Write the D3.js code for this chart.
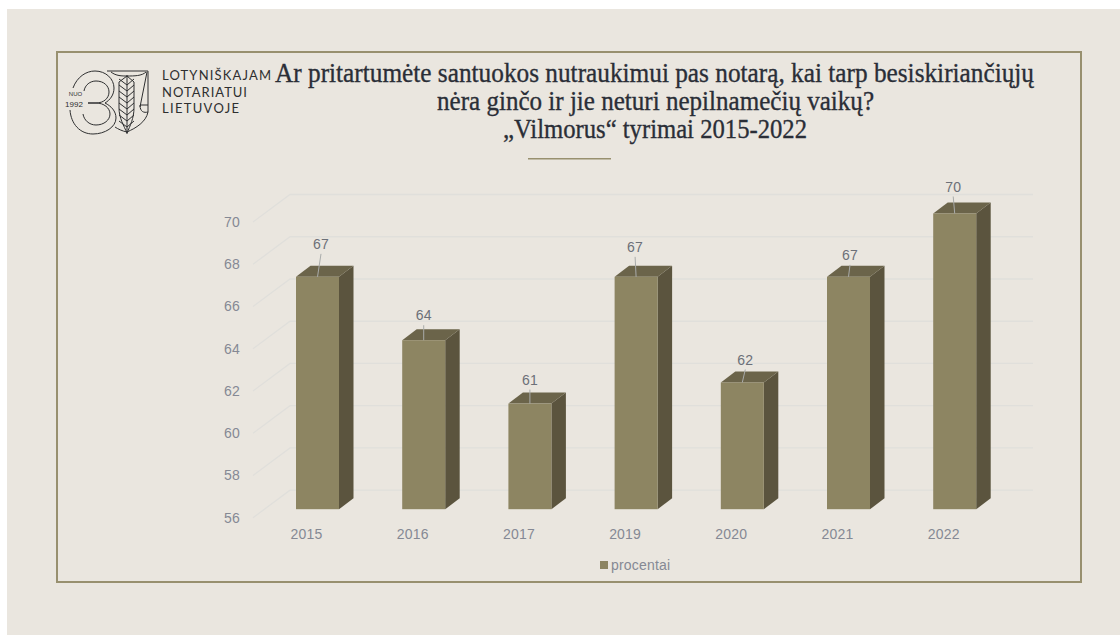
<!DOCTYPE html>
<html><head><meta charset="utf-8">
<style>html,body{margin:0;padding:0;background:#fff;overflow:hidden}svg{display:block}</style>
<script src="https://cdn.jsdelivr.net/npm/d3@7"></script></head>
<body><svg id="c" width="1120" height="635"></svg>
<script>
const categories = ["2015","2016","2017","2019","2020","2021","2022"];
const seriesName = "procentai";
const values = [67,64,61,67,62,67,70];
const yTicks = [56,58,60,62,64,66,68,70];
const titleLines = ["Ar pritartumėte santuokos nutraukimui pas notarą, kai tarp besiskiriančiųjų","nėra ginčo ir jie neturi nepilnamečių vaikų?","„Vilmorus“ tyrimai 2015-2022"];
const logoLines = ["LOTYNIŠKAJAM","NOTARIATUI","LIETUVOJE"];

const svg = d3.select("#c");
const BG="#eae6df", FRAME="#98906f", FRONT="#8d8562", SIDE="#5b543e", TOP="#6b644a", GRID="#e0dfdb", AXIS="#858994", LABEL="#6c7078", INK="#2a2e37", LOGO="#2e2f30";

svg.append("rect").attr("x",7).attr("y",9).attr("width",1113).attr("height",626).attr("fill",BG);
svg.append("rect").attr("x",57).attr("y",52).attr("width",1024).attr("height",530).attr("fill","none").attr("stroke",FRAME).attr("stroke-width",2);

// title
const titleLayout=[{x:275,w:759,y:81.5},{x:437,w:437,y:110},{x:503,w:304,y:138}];
svg.append("g").selectAll("text").data(titleLines).join("text")
  .attr("x",(d,i)=>titleLayout[i].x).attr("y",(d,i)=>titleLayout[i].y)
  .attr("textLength",(d,i)=>titleLayout[i].w).attr("lengthAdjust","spacingAndGlyphs")
  .attr("font-family","'Liberation Serif',serif").attr("font-size",28)
  .attr("fill",INK).attr("stroke",INK).attr("stroke-width",.35).text(d=>d);
svg.append("line").attr("x1",528).attr("x2",611).attr("y1",158.7).attr("y2",158.7).attr("stroke",FRAME).attr("stroke-width",1.6);

// logo
const logo=svg.append("g").attr("fill","none").attr("stroke",LOGO).attr("stroke-width",1);
logo.append("path").attr("d","M73 88C77 77 86 71 95 71C106 71 114 79 114 88C114 95 110 100 105 103C111 106 116 111 116 118C116 127 105 134 93 134C80 134 71 124 70 110");
logo.append("path").attr("d","M84 91C85 85 90 81 96 81C104 81 109 86 109 92C109 98 104 103 96 103H88H96C104 103 110 108 110 114C110 120 104 125 96 125C89 125 84 120 83 114");
logo.append("path").attr("d","M107 71H148V112C146 122 136 128 127 132C122 131 118 129 115 127");
logo.append("path").attr("d","M111 72C116 76 122 76 127 76C134 76 142 76 146 72M127 75V134M140 107L147 72M140 105H148M140 105C140 112 144 113 148 112");
logo.append("path").attr("d","M119 82L127 76L134 82V108C134 118 130 126 127 133C124 126 119 118 119 108Z");
logo.selectAll("path.ch").data(d3.range(8)).join("path").attr("class","ch")
  .attr("d",i=>{const y=82+i*6;return `M119 ${y-3}L127 ${y+3}L134 ${y-3}`;});
svg.append("text").attr("x",75.5).attr("y",96).attr("text-anchor","middle").attr("font-family","'Liberation Sans',sans-serif").attr("font-size",6).attr("fill",LOGO).text("NUO");
svg.append("text").attr("x",74).attr("y",106.5).attr("text-anchor","middle").attr("font-family","'Liberation Sans',sans-serif").attr("font-size",8).attr("fill",LOGO).text("1992");
const logoLayout=[{w:109,y:80},{w:85,y:96.5},{w:77,y:113}];
svg.append("g").selectAll("text").data(logoLines).join("text")
  .attr("x",162).attr("y",(d,i)=>logoLayout[i].y).attr("textLength",(d,i)=>logoLayout[i].w).attr("lengthAdjust","spacing")
  .attr("font-family","Lato,sans-serif").attr("font-size",13).attr("fill",LOGO).text(d=>d);

// scales
const step=106.2, x0=296-step*0.2975;
const x=d3.scaleBand().domain(categories).range([x0,x0+step*categories.length]).paddingInner(1-43/step).paddingOuter((1-43/step)/2);
const y=d3.scaleLinear().domain([56,70]).range([517.7,222]);
const wallDx=37, wallDy=-27.5, barLift=-8.5, depthX=14.5, depthY=-11;
const floorX=253, wallEnd=1033;

// grid
const grid=svg.append("g").attr("fill","none").attr("stroke",GRID).attr("stroke-width",1.3);
grid.selectAll("path").data(yTicks).join("path")
  .attr("d",v=>`M${floorX} ${y(v)}L${floorX+wallDx} ${y(v)+wallDy}H${wallEnd}`);

// axes
const tickFont=g=>{g.select(".domain").remove();g.selectAll(".tick line").remove();
  g.selectAll("text").attr("fill",AXIS).attr("font-family","'Liberation Sans',sans-serif").attr("font-size",14).attr("letter-spacing",.2);};
svg.append("g").attr("transform","translate(240,0)")
  .call(d3.axisLeft(y).tickValues(yTicks).tickSize(0).tickPadding(0)).call(tickFont);
svg.append("g").attr("transform","translate(-11,526)")
  .call(d3.axisBottom(x).tickSize(0).tickPadding(3)).call(tickFont);

// bars
const barBase=y(56)+barLift, bw=x.bandwidth();
const bars=svg.append("g").selectAll("g").data(values).join("g");
const bx=(d,i)=>x(categories[i]), by=d=>y(d)+barLift;
bars.append("path").attr("fill",SIDE)
  .attr("d",(d,i)=>{const r=bx(d,i)+bw;return `M${r} ${by(d)}l${depthX} ${depthY}V${barBase+depthY}L${r} ${barBase}Z`;});
bars.append("path").attr("fill",TOP)
  .attr("d",(d,i)=>{const l=bx(d,i);return `M${l} ${by(d)}l${depthX} ${depthY}h${bw}l${-depthX} ${-depthY}Z`;});
bars.append("rect").attr("fill",FRONT).attr("x",bx).attr("y",by).attr("width",bw).attr("height",d=>barBase-by(d));

// data labels with leader lines
const labelDx=[3.5,0,0,-1,3,1.5,-1.5], labelDy=[-33,-25,-24,-30,-23,-22,-27];
const cx=(d,i)=>bx(d,i)+bw/2;
bars.append("line").attr("stroke","#a9abaa").attr("stroke-width",1)
  .attr("x1",cx).attr("y1",by)
  .attr("x2",(d,i)=>cx(d,i)+labelDx[i]).attr("y2",(d,i)=>by(d)+labelDy[i]+10);
bars.append("text").attr("x",(d,i)=>cx(d,i)+labelDx[i]).attr("y",(d,i)=>by(d)+labelDy[i])
  .attr("dy","0.36em").attr("text-anchor","middle").attr("fill",LABEL)
  .attr("font-family","'Liberation Sans',sans-serif").attr("font-size",14).attr("letter-spacing",.2).text(d=>d);

// legend
const lg=svg.append("g");
lg.append("rect").attr("x",600).attr("y",561).attr("width",8).attr("height",8).attr("fill",FRONT);
lg.append("text").attr("x",611).attr("y",565).attr("dy","0.36em").attr("fill",AXIS)
  .attr("font-family","'Liberation Sans',sans-serif").attr("font-size",14).attr("letter-spacing",.2).text(seriesName);
</script></body></html>
